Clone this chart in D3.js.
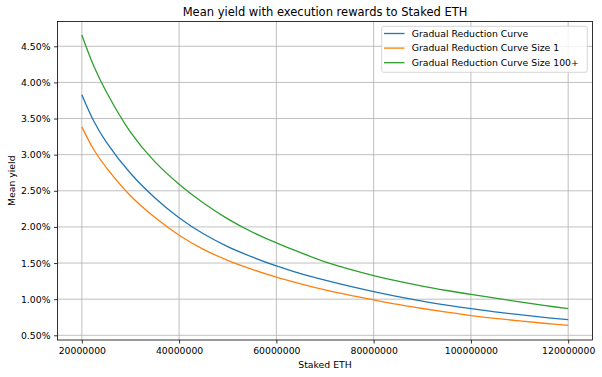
<!DOCTYPE html>
<html lang="en">
<head>
<meta charset="UTF-8">
<script src="https://cdnjs.cloudflare.com/ajax/libs/d3/7.8.5/d3.min.js"></script>
<title>Mean yield with execution rewards to Staked ETH</title>
<style>
  body { margin: 0; background: #fff; }
  text { font-family: "DejaVu Sans", sans-serif; fill: #000; }
</style>
</head>
<body>
<script>
// staked ETH (x) (denser at the steep start)
var stakedEth = [20e6, 22.5e6, 25e6, 30e6, 35e6, 40e6, 45e6, 50e6, 55e6, 60e6, 65e6, 70e6,
                 75e6, 80e6, 85e6, 90e6, 95e6, 100e6, 105e6, 110e6, 115e6, 120e6];
// mean yield in %
var gradual = [3.83, 3.46, 3.178, 2.743, 2.405, 2.128, 1.905, 1.728, 1.585, 1.46, 1.354, 1.262,
               1.179, 1.104, 1.035, 0.973, 0.918, 0.868, 0.825, 0.785, 0.749, 0.716];
var gradualSize1 = [3.385, 3.065, 2.825, 2.432, 2.133, 1.885, 1.69, 1.537, 1.413, 1.305, 1.212, 1.128,
                    1.055, 0.99, 0.927, 0.871, 0.82, 0.773, 0.734, 0.699, 0.667, 0.638];
var gradualSize100 = [4.656, 4.22, 3.875, 3.313, 2.903, 2.59, 2.33, 2.112, 1.93, 1.78, 1.643, 1.517,
                      1.417, 1.327, 1.249, 1.18, 1.12, 1.066, 1.014, 0.962, 0.914, 0.868];
var seriesNames = ["Gradual Reduction Curve", "Gradual Reduction Curve Size 1", "Gradual Reduction Curve Size 100+"];
var xTicks = [20e6, 40e6, 60e6, 80e6, 100e6, 120e6];
var yTicks = [0.5, 1.0, 1.5, 2.0, 2.5, 3.0, 3.5, 4.0, 4.5];

var width = 602, height = 377;
var margin = { top: 21.5, right: 9.5, bottom: 37, left: 57.5 };
var colors = ["#1f77b4", "#ff7f0e", "#2ca02c"];
var series = [gradual, gradualSize1, gradualSize100];

var svg = d3.select("body").append("svg")
    .attr("width", width)
    .attr("height", height);

var x = d3.scaleLinear()
    .domain([15e6, 125e6])
    .range([margin.left, width - margin.right]);
var y = d3.scaleLinear()
    .domain([0.435, 4.843])
    .range([height - margin.bottom, margin.top]);

// grid
var grid = svg.append("g").attr("stroke", "#b0b0b0").attr("stroke-width", 0.8);
grid.selectAll(".gx").data(xTicks).enter().append("line")
    .attr("x1", function (d) { return x(d); }).attr("x2", function (d) { return x(d); })
    .attr("y1", margin.top).attr("y2", height - margin.bottom);
grid.selectAll(".gy").data(yTicks).enter().append("line")
    .attr("y1", function (d) { return y(d); }).attr("y2", function (d) { return y(d); })
    .attr("x1", margin.left).attr("x2", width - margin.right);

// lines
var line = d3.line()
    .x(function (d, i) { return x(stakedEth[i]); })
    .y(function (d) { return y(d); })
    .curve(d3.curveCatmullRom.alpha(0.5));
svg.selectAll(".series").data(series).enter().append("path")
    .attr("fill", "none")
    .attr("stroke", function (d, i) { return colors[i]; })
    .attr("stroke-width", 1.3)
    .attr("d", line);

// axes
var xAxis = svg.append("g")
    .attr("transform", "translate(0," + (height - margin.bottom) + ")")
    .call(d3.axisBottom(x).tickValues(xTicks).tickSize(3.5).tickPadding(3.5).tickFormat(d3.format("d")));
var yAxis = svg.append("g")
    .attr("transform", "translate(" + margin.left + ",0)")
    .call(d3.axisLeft(y).tickValues(yTicks).tickSize(3.5).tickPadding(3.5)
        .tickFormat(function (d) { return d.toFixed(2) + "%"; }));
[xAxis, yAxis].forEach(function (a) {
    a.select(".domain").remove();
    a.selectAll("text").attr("font-family", "DejaVu Sans").attr("font-size", "9.3px").attr("fill", "#000");
    a.selectAll("line").attr("stroke", "#000").attr("stroke-width", 0.8);
});

// frame
svg.append("rect")
    .attr("x", margin.left).attr("y", margin.top)
    .attr("width", width - margin.left - margin.right)
    .attr("height", height - margin.top - margin.bottom)
    .attr("fill", "none").attr("stroke", "#000").attr("stroke-width", 0.8);

// titles
svg.append("text")
    .attr("x", (margin.left + width - margin.right) / 2).attr("y", 16)
    .attr("text-anchor", "middle").attr("font-size", "11.5px")
    .text("Mean yield with execution rewards to Staked ETH");
svg.append("text")
    .attr("x", (margin.left + width - margin.right) / 2).attr("y", 368)
    .attr("text-anchor", "middle").attr("font-size", "9.3px")
    .text("Staked ETH");
svg.append("text")
    .attr("transform", "translate(15," + ((margin.top + height - margin.bottom) / 2) + ") rotate(-90)")
    .attr("text-anchor", "middle").attr("font-size", "9.3px")
    .text("Mean yield");

// legend
var legend = svg.append("g");
legend.append("rect")
    .attr("x", 381.7).attr("y", 26.3).attr("width", 205.6).attr("height", 46)
    .attr("rx", 2).attr("fill", "#fff").attr("fill-opacity", 0.8)
    .attr("stroke", "#cccccc").attr("stroke-width", 0.8);
var items = legend.selectAll(".item").data(seriesNames).enter().append("g")
    .attr("transform", function (d, i) { return "translate(0," + (33.5 + i * 14.6) + ")"; });
items.append("line")
    .attr("x1", 384).attr("x2", 404.5)
    .attr("stroke", function (d, i) { return colors[i]; }).attr("stroke-width", 1.3);
items.append("text")
    .attr("x", 411.7).attr("y", 3.3).attr("font-size", "9.3px")
    .text(function (d) { return d; });
</script>
</body>
</html>
